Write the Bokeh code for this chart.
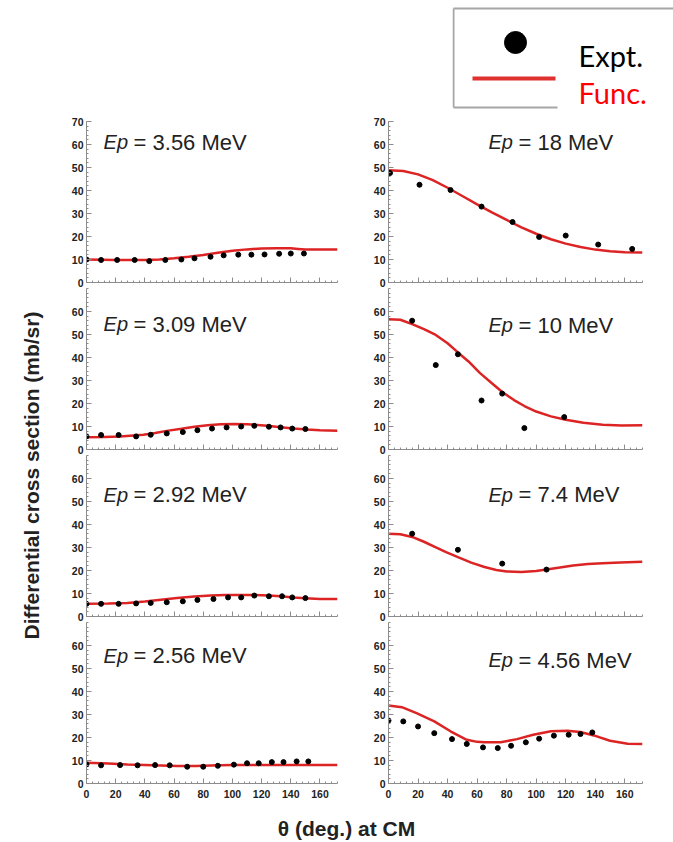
import numpy as np
from bokeh.plotting import figure
from bokeh.layouts import column, row
from bokeh.models import Range1d, FixedTicker, Spacer
from bokeh.core.properties import value
from bokeh.embed import file_html
from bokeh.resources import INLINE

# ---------------- data ----------------
# Left column
energy_356 = "3.56"
th_356 = [0, 10, 21, 33, 43, 54, 65, 74, 85, 94, 104, 113, 122, 132, 140, 149]
xs_356 = [10.0, 9.8, 9.8, 9.8, 9.3, 9.8, 10.0, 10.5, 11.2, 11.8, 12.1, 12.1, 12.2, 12.5, 12.6, 12.6]
fit_th_356 = [0, 20, 40, 50, 60, 70, 80, 90, 100, 110, 120, 130, 140, 145, 150, 160, 172]
fit_356 = [10.0, 9.8, 9.8, 10.0, 10.5, 11.2, 12.0, 12.9, 13.8, 14.4, 14.8, 14.9, 14.9, 14.6, 14.3, 14.3, 14.3]

energy_309 = "3.09"
th_309 = [0, 10, 22, 34, 44, 55, 66, 76, 86, 96, 106, 115, 125, 133, 141, 150]
xs_309 = [5.7, 6.3, 6.3, 5.7, 6.4, 7.0, 7.6, 8.4, 9.1, 9.6, 10.0, 10.3, 9.9, 9.6, 9.1, 8.9]
fit_th_309 = [0, 12, 23, 39, 47, 55, 65, 74, 83, 92, 101, 110, 117, 124, 133, 142, 151, 160, 172]
fit_309 = [5.3, 5.4, 5.6, 6.4, 7.2, 8.1, 9.0, 9.9, 10.5, 11.0, 11.1, 11.0, 10.7, 10.3, 9.7, 9.1, 8.7, 8.4, 8.1]

energy_292 = "2.92"
th_292 = [0, 10, 22, 34, 44, 55, 66, 76, 87, 97, 106, 115, 125, 134, 141, 150]
xs_292 = [5.5, 5.5, 5.5, 5.7, 5.9, 6.2, 6.6, 7.2, 7.6, 8.3, 8.3, 9.1, 8.8, 8.8, 8.3, 8.0]
fit_th_292 = [0, 15, 28, 40, 51, 62, 74, 85, 95, 105, 115, 125, 133, 142, 150, 160, 172]
fit_292 = [5.5, 5.6, 5.9, 6.5, 7.3, 8.0, 8.7, 9.1, 9.3, 9.3, 9.3, 9.1, 8.8, 8.3, 7.9, 7.6, 7.6]

energy_256 = "2.56"
th_256 = [0, 10, 23, 35, 47, 57, 69, 80, 90, 101, 110, 118, 127, 135, 144, 152]
xs_256 = [8.3, 7.9, 8.0, 7.9, 8.0, 7.9, 7.3, 7.3, 7.7, 8.2, 8.8, 8.8, 9.3, 9.3, 9.6, 9.6]
fit_th_256 = [0, 15, 28, 46, 62, 75, 85, 100, 120, 142, 172]
fit_256 = [9.0, 8.7, 8.3, 7.9, 7.6, 7.6, 7.8, 8.0, 8.0, 8.0, 8.0]

# Right column
energy_18 = "18"
th_18 = [1, 21, 42, 63, 84, 102, 120, 142, 165]
xs_18 = [47.6, 42.5, 40.2, 33.0, 26.3, 19.8, 20.4, 16.5, 14.6]
fit_th_18 = [0, 10, 20, 30, 40, 50, 60, 70, 80, 90, 100, 110, 120, 130, 140, 150, 160, 172]
fit_18 = [48.8, 48.5, 47.0, 44.5, 41.2, 37.6, 34.0, 30.5, 27.2, 24.0, 21.2, 18.8, 16.9, 15.4, 14.3, 13.6, 13.1, 13.0]

energy_10 = "10"
th_10 = [16, 32, 47, 63, 77, 92, 119]
xs_10 = [56.0, 36.7, 41.4, 21.3, 24.3, 9.3, 14.1]
fit_th_10 = [0, 8, 16, 24, 32, 40, 47, 55, 62, 70, 77, 85, 92, 100, 110, 120, 132, 145, 158, 172]
fit_10 = [56.6, 56.4, 54.5, 52.3, 49.8, 46.2, 42.2, 37.8, 33.2, 28.8, 25.0, 21.5, 18.9, 16.5, 14.4, 12.9, 11.6, 10.8, 10.4, 10.5]

energy_74 = "7.4"
th_74 = [16, 47, 77, 107]
xs_74 = [36.0, 29.0, 23.0, 20.4]
fit_th_74 = [0, 8, 16, 24, 31, 39, 47, 56, 65, 73, 80, 90, 100, 107, 115, 125, 135, 145, 157, 172]
fit_74 = [36.0, 35.8, 34.6, 32.5, 30.4, 28.0, 25.8, 23.4, 21.5, 20.2, 19.6, 19.4, 19.8, 20.4, 21.2, 22.2, 22.8, 23.2, 23.5, 23.8]

energy_456 = "4.56"
th_456 = [0, 10, 20, 31, 43, 53, 64, 74, 83, 93, 102, 112, 122, 130, 138]
xs_456 = [27.4, 27.0, 24.8, 21.9, 19.3, 17.2, 15.7, 15.4, 16.4, 17.9, 19.5, 20.8, 21.2, 21.5, 22.2]
fit_th_456 = [0, 9, 19, 31, 42, 53, 60, 65, 76, 87, 98, 110, 121, 130, 139, 150, 162, 172]
fit_456 = [33.9, 33.2, 30.6, 27.0, 22.7, 19.0, 18.1, 17.9, 17.9, 19.3, 21.2, 22.7, 22.9, 22.4, 20.9, 18.6, 17.3, 17.2]

x_major_ticks = [0, 20, 40, 60, 80, 100, 120, 140, 160]
y_major_ticks = [0, 10, 20, 30, 40, 50, 60, 70]

y_title = "Differential cross section (mb/sr)"
x_title = "\u03b8 (deg.) at CM"
legend_labels = ["Expt.", "Func."]

# ---------------- style ----------------
X_MAX = 172
Y_MAX = 70
FONT = "Liberation Sans"
AXIS_GRAY = "#8c8c8c"
TEXT_DARK = "#222222"
RED = "#dc2424"


def make_panel(pts_th, pts_xs, fit_th, fit_xs, energy, col, pos, label_x, label_base):
    if col == "left":
        width, mb_left, mb_right = 312, 36, 25
    else:
        width, mb_left, mb_right = 311, 26, 31
    h, mb_top, mb_bottom = {"top": (175, 8, 6), "mid": (167, 0, 6), "bottom": (181, 0, 20)}[pos]
    p = figure(width=width, height=h, x_range=Range1d(0, X_MAX), y_range=Range1d(0, Y_MAX),
               output_backend="svg", toolbar_location=None,
               min_border_left=mb_left, min_border_right=mb_right,
               min_border_top=mb_top, min_border_bottom=mb_bottom)
    p.outline_line_color = None
    p.grid.visible = False
    p.background_fill_color = "white"
    p.border_fill_color = "white"

    p.xaxis.ticker = FixedTicker(ticks=x_major_ticks, minor_ticks=list(range(0, X_MAX + 1, 4)))
    yt = y_major_ticks if pos == "top" else y_major_ticks[:-1]
    p.yaxis.ticker = FixedTicker(ticks=yt, minor_ticks=list(range(0, Y_MAX + 1, 2)))
    for ax in (p.xaxis[0], p.yaxis[0]):
        ax.axis_line_color = AXIS_GRAY
        ax.major_tick_line_color = AXIS_GRAY
        ax.minor_tick_line_color = AXIS_GRAY
        ax.major_tick_in = 5
        ax.major_tick_out = 0
        ax.minor_tick_in = 2
        ax.minor_tick_out = 0
        ax.major_label_text_font = FONT
        ax.major_label_text_font_style = "bold"
        ax.major_label_text_color = TEXT_DARK
        ax.major_label_text_font_size = "10.5px"
    p.yaxis.major_label_standoff = 3
    if pos != "bottom":
        # tick marks only, no tick labels on the inner x axes
        p.xaxis.major_label_text_font_size = "0px"
        p.xaxis.major_label_text_color = None
        p.xaxis.major_label_text_alpha = 0
        p.xaxis.major_label_standoff = 0
    else:
        p.xaxis.major_label_standoff = 6
        p.xaxis.major_label_text_font_size = "10.5px"

    p.line(fit_th, fit_xs, line_color=RED, line_width=2.5)
    p.scatter(pts_th, pts_xs, size=5, color="black")
    p.text(x=[label_x], y=[label_base], text=["Ep"], text_font=value(FONT),
           text_font_style="italic", text_font_size="20px", text_color=TEXT_DARK,
           text_baseline="alphabetic", text_align="left")
    p.text(x=[label_x], y=[label_base], text=["= %s MeV" % energy], x_offset=30,
           text_font=value(FONT), text_font_size="22px", text_color=TEXT_DARK,
           text_baseline="alphabetic", text_align="left")
    return p


LX_LEFT = 11.7
LX_RIGHT = 67.7

left = [
    make_panel(th_356, xs_356, fit_th_356, fit_356, energy_356, "left", "top", LX_LEFT, 61.0),
    make_panel(th_309, xs_309, fit_th_309, fit_309, energy_309, "left", "mid", LX_LEFT, 54.5),
    make_panel(th_292, xs_292, fit_th_292, fit_292, energy_292, "left", "mid", LX_LEFT, 53.0),
    make_panel(th_256, xs_256, fit_th_256, fit_256, energy_256, "left", "bottom", LX_LEFT, 55.5),
]
right = [
    make_panel(th_18, xs_18, fit_th_18, fit_18, energy_18, "right", "top", LX_RIGHT, 61.0),
    make_panel(th_10, xs_10, fit_th_10, fit_10, energy_10, "right", "mid", LX_RIGHT, 54.0),
    make_panel(th_74, xs_74, fit_th_74, fit_74, energy_74, "right", "mid", LX_RIGHT, 53.0),
    make_panel(th_456, xs_456, fit_th_456, fit_456, energy_456, "right", "bottom", LX_RIGHT, 53.5),
]


def blank(width, height, xr, yr):
    p = figure(width=width, height=height, x_range=xr, y_range=yr,
               output_backend="svg", toolbar_location=None,
               x_axis_type=None, y_axis_type=None, min_border=0)
    p.outline_line_color = None
    p.grid.visible = False
    p.background_fill_color = "white"
    p.border_fill_color = "white"
    return p


# y-axis title
yt_fig = blank(50, 690, Range1d(0, 50), Range1d(0, 690))
yt_fig.text(x=[31], y=[328], text=[y_title], angle=np.pi / 2, text_align="center",
            text_baseline="middle", text_font=value(FONT), text_font_style="bold",
            text_font_size="21px", text_color=TEXT_DARK)

# x-axis title
xt_fig = blank(673, 39, Range1d(0, 673), Range1d(39, 0))
xt_fig.text(x=[346], y=[25], text=[x_title], text_align="center", text_baseline="middle",
            text_font=value(FONT), text_font_style="bold", text_font_size="21px",
            text_color=TEXT_DARK)

# legend box
lg = blank(221, 113, Range1d(452, 673), Range1d(113, 0))
lg.quad(left=[453], right=[680], top=[8], bottom=[107], fill_color="white", line_color=None)
lg.segment(x0=[453, 453, 453], y0=[8, 8, 107], x1=[680, 453, 557], y1=[8, 107, 107],
           line_color="#a6a6a6", line_width=2)
lg.scatter(x=[515], y=[42], size=22, color="black")
lg.segment(x0=[472], y0=[78], x1=[555], y1=[78], line_color="#e03131", line_width=4)
lg.text(x=[578], y=[55], text=[legend_labels[0]], text_font=value("Lato"),
        text_font_size="29px", text_color="black", text_baseline="alphabetic")
lg.text(x=[578], y=[92], text=[legend_labels[1]], text_font=value("Lato"),
        text_font_size="29px", text_color="#ff0000", text_baseline="alphabetic")

layout = column(
    row(Spacer(width=452, height=113), lg),
    row(yt_fig, column(*left), column(*right)),
    xt_fig,
)

open("out.html", "w").write(file_html(layout, INLINE))
